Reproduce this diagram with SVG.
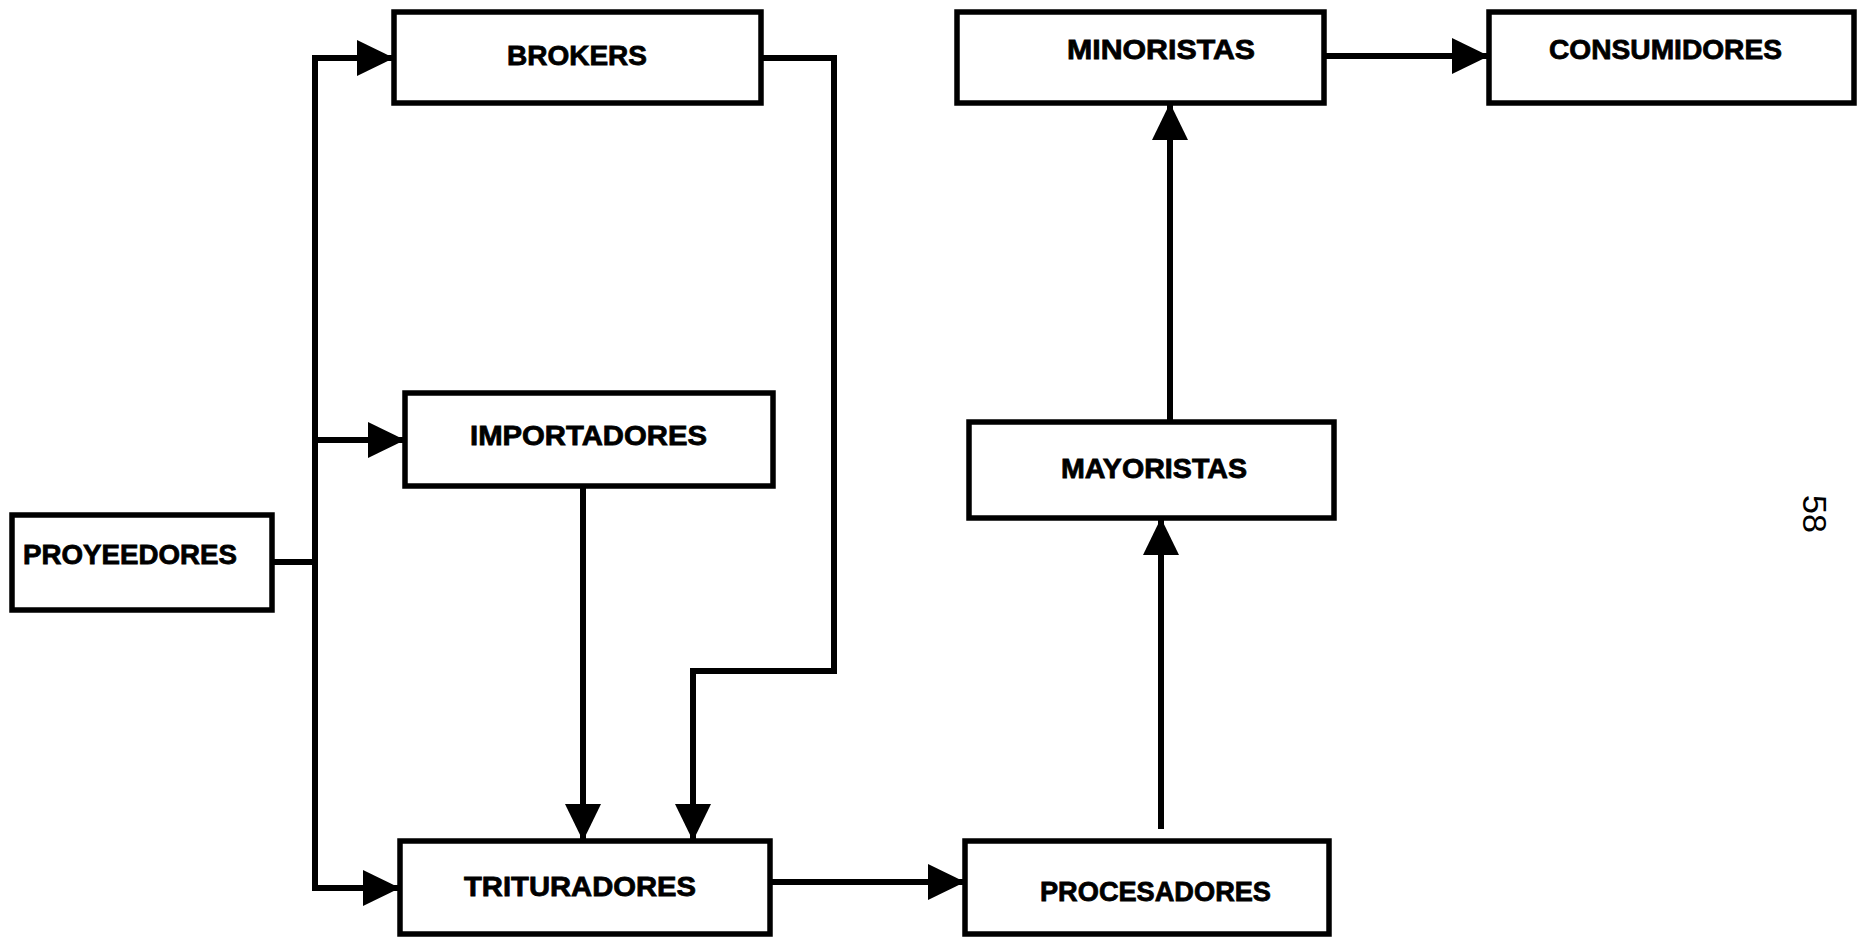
<svg xmlns="http://www.w3.org/2000/svg" width="1857" height="937" viewBox="0 0 1857 937">
<style>
.box{fill:#fff;stroke:#000;stroke-width:5.5}
.lbl{font-family:"Liberation Sans",Arial,sans-serif;font-weight:bold;font-size:28px;fill:#000;stroke:#000;stroke-width:0.8}
.ln{fill:none;stroke:#000;stroke-width:6;stroke-linejoin:miter}
.ar{marker-end:url(#ah)}
</style>
<defs>
<marker id="ah" markerUnits="userSpaceOnUse" markerWidth="40" markerHeight="38" refX="37" refY="18" orient="auto" viewBox="0 0 40 38">
<path d="M0,0 L37,18 L0,36 z" fill="#000"/>
</marker>
</defs>
<rect width="1857" height="937" fill="#fff"/>
<g id="connectors">
<path class="ln" d="M272,562 H315 M315,55 V891"/>
<path class="ln ar" d="M312,58 H394"/>
<path class="ln ar" d="M315,440 H405"/>
<path class="ln ar" d="M312,888 H400"/>
<path class="ln ar" d="M761,58 H834 V671 H693 V841"/>
<path class="ln ar" d="M583,486 V841"/>
<path class="ln ar" d="M770,882 H965"/>
<path class="ln ar" d="M1161,829 V518"/>
<path class="ln ar" d="M1170,422 V103"/>
<path class="ln ar" d="M1324,56 H1489"/>
</g>
<g id="proveedores">
<rect class="box" x="12" y="515" width="260" height="95"/>
<text class="lbl" x="23" y="564" textLength="214" lengthAdjust="spacingAndGlyphs">PROYEEDORES</text>
</g>
<g id="brokers">
<rect class="box" x="394" y="12" width="367" height="91"/>
<text class="lbl" x="507" y="65" textLength="140" lengthAdjust="spacingAndGlyphs">BROKERS</text>
</g>
<g id="importadores">
<rect class="box" x="405" y="393" width="368" height="93"/>
<text class="lbl" x="470" y="445" textLength="237" lengthAdjust="spacingAndGlyphs">IMPORTADORES</text>
</g>
<g id="trituradores">
<rect class="box" x="400" y="841" width="370" height="93"/>
<text class="lbl" x="464" y="896" textLength="232" lengthAdjust="spacingAndGlyphs">TRITURADORES</text>
</g>
<g id="procesadores">
<rect class="box" x="965" y="841" width="364" height="93"/>
<text class="lbl" x="1040" y="901" textLength="231" lengthAdjust="spacingAndGlyphs">PROCESADORES</text>
</g>
<g id="mayoristas">
<rect class="box" x="969" y="422" width="365" height="96"/>
<text class="lbl" x="1061" y="478" textLength="186" lengthAdjust="spacingAndGlyphs">MAYORISTAS</text>
</g>
<g id="minoristas">
<rect class="box" x="957" y="12" width="367" height="91"/>
<text class="lbl" x="1067" y="59" textLength="188" lengthAdjust="spacingAndGlyphs">MINORISTAS</text>
</g>
<g id="consumidores">
<rect class="box" x="1489" y="12" width="365" height="91"/>
<text class="lbl" x="1549" y="59" textLength="233" lengthAdjust="spacingAndGlyphs">CONSUMIDORES</text>
</g>
<text x="1803" y="495" transform="rotate(90 1803 495)" font-family="Liberation Sans, Arial, sans-serif" font-size="34" fill="#000">58</text>
</svg>
